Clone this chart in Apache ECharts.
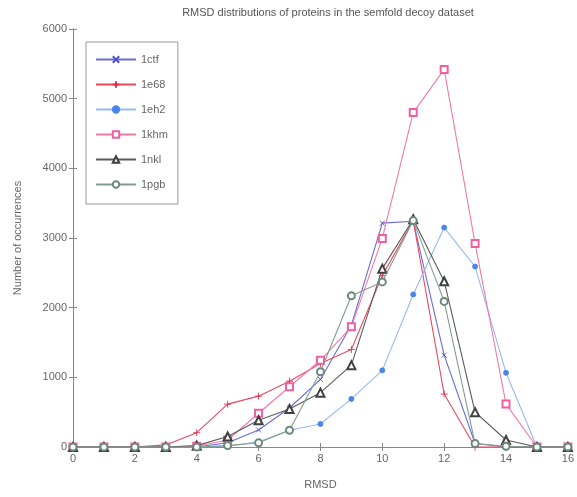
<!DOCTYPE html>
<html><head><meta charset="utf-8">
<script src="https://cdn.jsdelivr.net/npm/echarts@6/dist/echarts.min.js"></script>
<style>html,body{margin:0;padding:0;background:#fff}#c{width:577px;height:497px}</style>
</head><body><div id="c"></div>
<script>
var rmsd = [0,1,2,3,4,5,6,7,8,9,10,11,12,13,14,15,16];
var names = ['1ctf','1e68','1eh2','1khm','1nkl','1pgb'];
var v1ctf = [0,0,0,0,0,60,245,560,970,1750,3213,3240,1318,50,0,0,0];
var v1e68 = [0,0,0,30,205,615,730,945,1200,1400,2460,3250,760,0,0,0,0];
var v1eh2 = [0,0,0,0,0,10,75,240,330,690,1100,2190,3150,2590,1065,0,0];
var v1khm = [0,0,0,0,10,100,485,865,1245,1725,2994,4800,5420,2920,616,0,0];
var v1nkl = [0,0,0,0,20,150,385,545,780,1175,2560,3270,2380,500,100,0,0];
var v1pgb = [0,0,0,0,0,20,60,240,1080,2170,2370,3250,2090,50,10,0,0];
var xTicks = [0,2,4,6,8,10,12,14,16];
var yTicks = [0,1000,2000,3000,4000,5000,6000];

var vals = [v1ctf,v1e68,v1eh2,v1khm,v1nkl,v1pgb];
var colors = ['#6a6ade','#e84a62','#9ab8f2','#f27aa6','#5a5a5a','#809e90'];
var markColors = ['#5050c8','#e03050','#4a86e8','#f060a0','#404040','#6a8a7a'];
var symbols = ['path://M0,0L10,10M10,0L0,10','path://M5,0L5,10M0,5L10,5','circle','emptyRect','emptyTriangle','emptyCircle'];
var sizes = [5,7,5,7,8,7];
var txt = '#666';
var series = names.map(function(n,i){
  return {
    name:n, type:'line',
    data: rmsd.map(function(x,j){return [x, vals[i][j]];}),
    symbol: symbols[i], symbolSize: sizes[i], showSymbol:true,
    lineStyle:{color:colors[i], width:1.1},
    itemStyle:{color: markColors[i], borderColor:markColors[i], borderWidth:0.9},
    emphasis:{disabled:true}, z: 2+i
  };
});
var chart = echarts.init(document.getElementById('c'), null, {renderer:'canvas'});
chart.setOption({
  animation:false,
  backgroundColor:'#fff',
  textStyle:{fontFamily:'Liberation Sans, Arial, sans-serif'},
  title:{text:'RMSD distributions of proteins in the semfold decoy dataset', left:323, top:2, textAlign:'center',
    textStyle:{fontSize:11, fontWeight:'normal', color:'#555'}},
  legend:{
    orient:'vertical', left:86, top:42, width:96,
    padding:[12,10,14,9], itemGap:14, itemWidth:40, itemHeight:8,
    borderColor:'#999', borderWidth:1, backgroundColor:'#fff',
    textStyle:{fontSize:11, color:txt},
    data: names
  },
  grid:{left:73, right:4, top:29, bottom:50},
  xAxis:[{
    type:'value', min:0, max:16, interval:2, name:'RMSD', nameLocation:'middle', nameGap:32,
    nameTextStyle:{fontSize:11, color:txt},
    axisLine:{lineStyle:{color:'#888'}}, axisTick:{inside:true, length:4, lineStyle:{color:'#888'}},
    axisLabel:{fontSize:11, color:txt, margin:6}, splitLine:{show:false}
  },{
    type:'value', position:'top', min:0, max:16, interval:2,
    axisLine:{show:true, lineStyle:{color:'#888'}}, axisTick:{inside:true, length:4, lineStyle:{color:'#888'}},
    axisLabel:{show:false}, splitLine:{show:false}
  }],
  yAxis:[{
    type:'value', min:0, max:6000, interval:1000, name:'Number of occurrences', nameLocation:'middle', nameGap:50,
    nameTextStyle:{fontSize:11, color:txt},
    axisLine:{show:true, lineStyle:{color:'#888'}}, axisTick:{show:true, inside:true, length:4, lineStyle:{color:'#888'}},
    axisLabel:{fontSize:11, color:txt, margin:6, formatter:function(v){return String(v);}}, splitLine:{show:false}
  },{
    type:'value', position:'right', min:0, max:6000, interval:1000,
    axisLine:{show:true, lineStyle:{color:'#888'}}, axisTick:{show:true, inside:true, length:4, lineStyle:{color:'#888'}},
    axisLabel:{show:false}, splitLine:{show:false}
  }],
  series: series
});
</script></body></html>
